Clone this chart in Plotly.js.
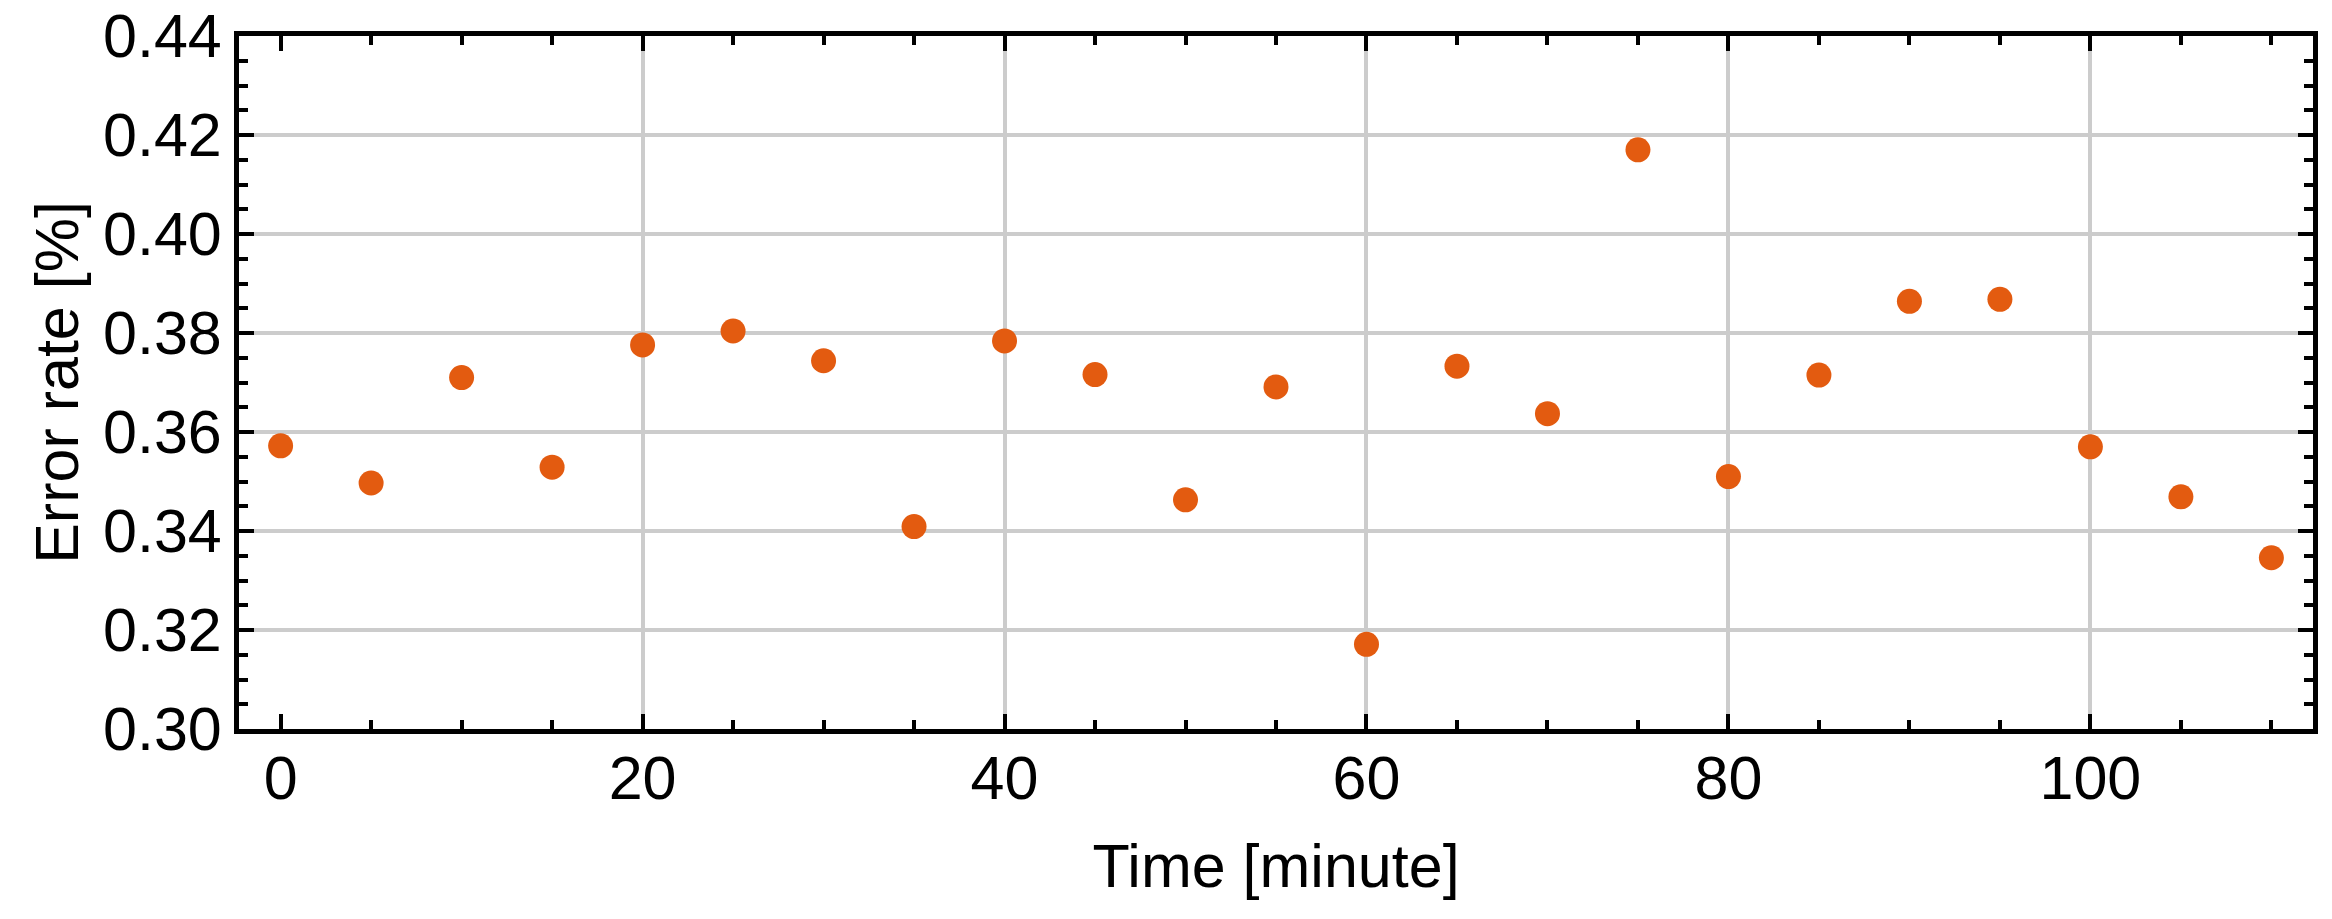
<!DOCTYPE html>
<html>
<head>
<meta charset="utf-8">
<script src="https://cdn.plot.ly/plotly-3.0.1.min.js"></script>
<style>
  html, body { margin: 0; padding: 0; background: #fff; }
  #chart { width: 2332px; height: 919px; }
</style>
</head>
<body>
<div id="chart"></div>
<script>
// time in minutes, error rate in percent
const timeMin = [0, 5, 10, 15, 20, 25, 30, 35, 40, 45, 50, 55,
  60, 65, 70, 75, 80, 85, 90, 95, 100, 105, 110];
const errorRate = [0.3572, 0.3497, 0.3710, 0.3529, 0.3776, 0.3804, 0.3744, 0.3409,
  0.3784, 0.3716, 0.3463, 0.3691, 0.3171, 0.3733, 0.3637, 0.4170, 0.3510,
  0.3715, 0.3864, 0.3868, 0.3570, 0.3469, 0.3346];

const font = { family: "Liberation Sans, Arial, sans-serif", size: 61, color: "#000" };

const pointsTrace = {
  x: timeMin,
  y: errorRate,
  type: "scatter",
  mode: "markers",
  marker: { color: "#e35b10", size: 25 },
  hoverinfo: "skip",
  showlegend: false,
};

const axisCommon = {
  showline: true,
  linewidth: 5,
  linecolor: "#000",
  mirror: "ticks",
  ticks: "inside",
  ticklen: 15,
  tickwidth: 4,
  tickcolor: "#000",
  showgrid: true,
  gridcolor: "#cccccc",
  gridwidth: 4,
  // hide the grid line at x = 0 like the original
  zeroline: true,
  zerolinecolor: "rgba(0,0,0,0)",
  tickfont: font,
  automargin: false,
};

const layout = {
  width: 2332,
  height: 919,
  margin: { l: 239, r: 19, t: 36, b: 190 },
  paper_bgcolor: "#fff",
  plot_bgcolor: "#fff",
  font: font,
  xaxis: Object.assign({}, axisCommon, {
    range: [-2.3, 112.3],
    tick0: 0,
    dtick: 20,
    ticklabelstandoff: -8,
    minor: { dtick: 5, ticks: "inside", ticklen: 9, tickwidth: 4, tickcolor: "#000", showgrid: false },
    title: { text: "Time [minute]", font: font, standoff: 35 },
  }),
  yaxis: Object.assign({}, axisCommon, {
    range: [0.30, 0.44],
    tick0: 0.30,
    dtick: 0.02,
    tickformat: ".2f",
    minor: { dtick: 0.005, ticks: "inside", ticklen: 9, tickwidth: 4, tickcolor: "#000", showgrid: false },
    title: { text: "Error rate [%]", font: font, standoff: 6 },
  }),
};

Plotly.newPlot("chart", [pointsTrace], layout, { displayModeBar: false, staticPlot: true });
</script>
</body>
</html>
